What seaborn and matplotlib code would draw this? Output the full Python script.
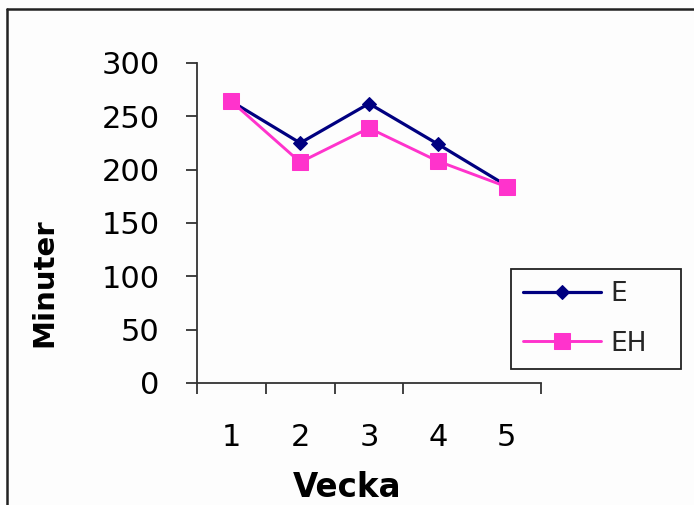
import numpy as np
import pandas as pd
import seaborn as sns
import matplotlib
matplotlib.use("Agg")
import matplotlib.pyplot as plt
from matplotlib.lines import Line2D
from matplotlib.ticker import FixedLocator

weeks = [1, 2, 3, 4, 5]
e_values = [264, 225, 262, 224, 185]
eh_values = [264, 207, 239, 208, 184]
y_ticks = [0, 50, 100, 150, 200, 250, 300]

sns.set_theme(style="white")
plt.rcParams["font.family"] = ["DejaVu Sans"]

W, H = 694, 505
fig = plt.figure(figsize=(W / 100, H / 100), dpi=100, facecolor="#fdfdfd")
ax = fig.add_axes([197 / W, 1 - 383 / H, (541 - 197) / W, (383 - 63) / H])
ax.set_facecolor("#fdfdfd")

navy = "#000080"
pink = "#ff33cc"

sns.lineplot(x=weeks, y=e_values, ax=ax, color=navy, marker="D", markersize=7.5,
             markeredgecolor=navy, linewidth=2.3, label="E", zorder=3)
sns.lineplot(x=weeks, y=eh_values, ax=ax, color=pink, marker="s", markersize=11.5,
             markeredgecolor=pink, linewidth=2.1, label="EH", zorder=4)

ax.set_xlim(0.5, 5.5)
ax.set_ylim(0, 300)
ax.set_xticks(weeks)
ax.set_xticklabels([str(w) for w in weeks])
ax.xaxis.set_minor_locator(FixedLocator([0.5, 1.5, 2.5, 3.5, 5.5]))
ax.set_yticks(y_ticks)
ax.set_yticklabels([str(v) for v in y_ticks])

for s in ["top", "right"]:
    ax.spines[s].set_visible(False)
for s in ["left", "bottom"]:
    ax.spines[s].set_color("#333333")
    ax.spines[s].set_linewidth(1.3)

ax.tick_params(axis="x", which="major", length=0, pad=29, labelsize=22, labelcolor="black")
ax.tick_params(axis="x", which="minor", direction="out", length=8, width=1.3, color="#333333", bottom=True)
ax.tick_params(axis="y", which="major", direction="out", length=8, width=1.3, color="#333333",
               left=True, pad=19, labelsize=22, labelcolor="black")
ax.set_xlabel("")
ax.set_ylabel("")
ax.grid(False)

fig.text(347 / W, 1 - 497 / H, "Vecka", ha="center", va="baseline",
         fontsize=23.5, fontweight="bold", color="black")
fig.text(44 / W, 1 - 282.5 / H, "Minuter", ha="center", va="center", rotation=90,
         fontsize=21, fontweight="bold", color="black")

ax.get_legend().remove()
handles, labels = ax.get_legend_handles_labels()
leg = fig.legend(handles, labels, loc="upper left",
                 bbox_to_anchor=(511 / W, 1 - 368 / H, 170 / W, 99 / H),
                 bbox_transform=fig.transFigure, mode="expand",
                 fontsize=19, frameon=True, fancybox=False, shadow=False,
                 handlelength=2.95, handletextpad=0.35, labelspacing=0.9,
                 borderpad=0.45, borderaxespad=0)
leg.get_frame().set_edgecolor("#222222")
leg.get_frame().set_linewidth(1.3)
leg.get_frame().set_facecolor("#fdfdfd")
leg.get_frame().set_alpha(1)

# outer frame (top and left edges)
fig.add_artist(Line2D([7 / W, 1], [1 - 9 / H, 1 - 9 / H], transform=fig.transFigure,
                      color="#222222", linewidth=1.8))
fig.add_artist(Line2D([7 / W, 7 / W], [0, 1 - 9 / H], transform=fig.transFigure,
                      color="#222222", linewidth=1.8))

fig.savefig("out.png", dpi=100, facecolor=fig.get_facecolor())
